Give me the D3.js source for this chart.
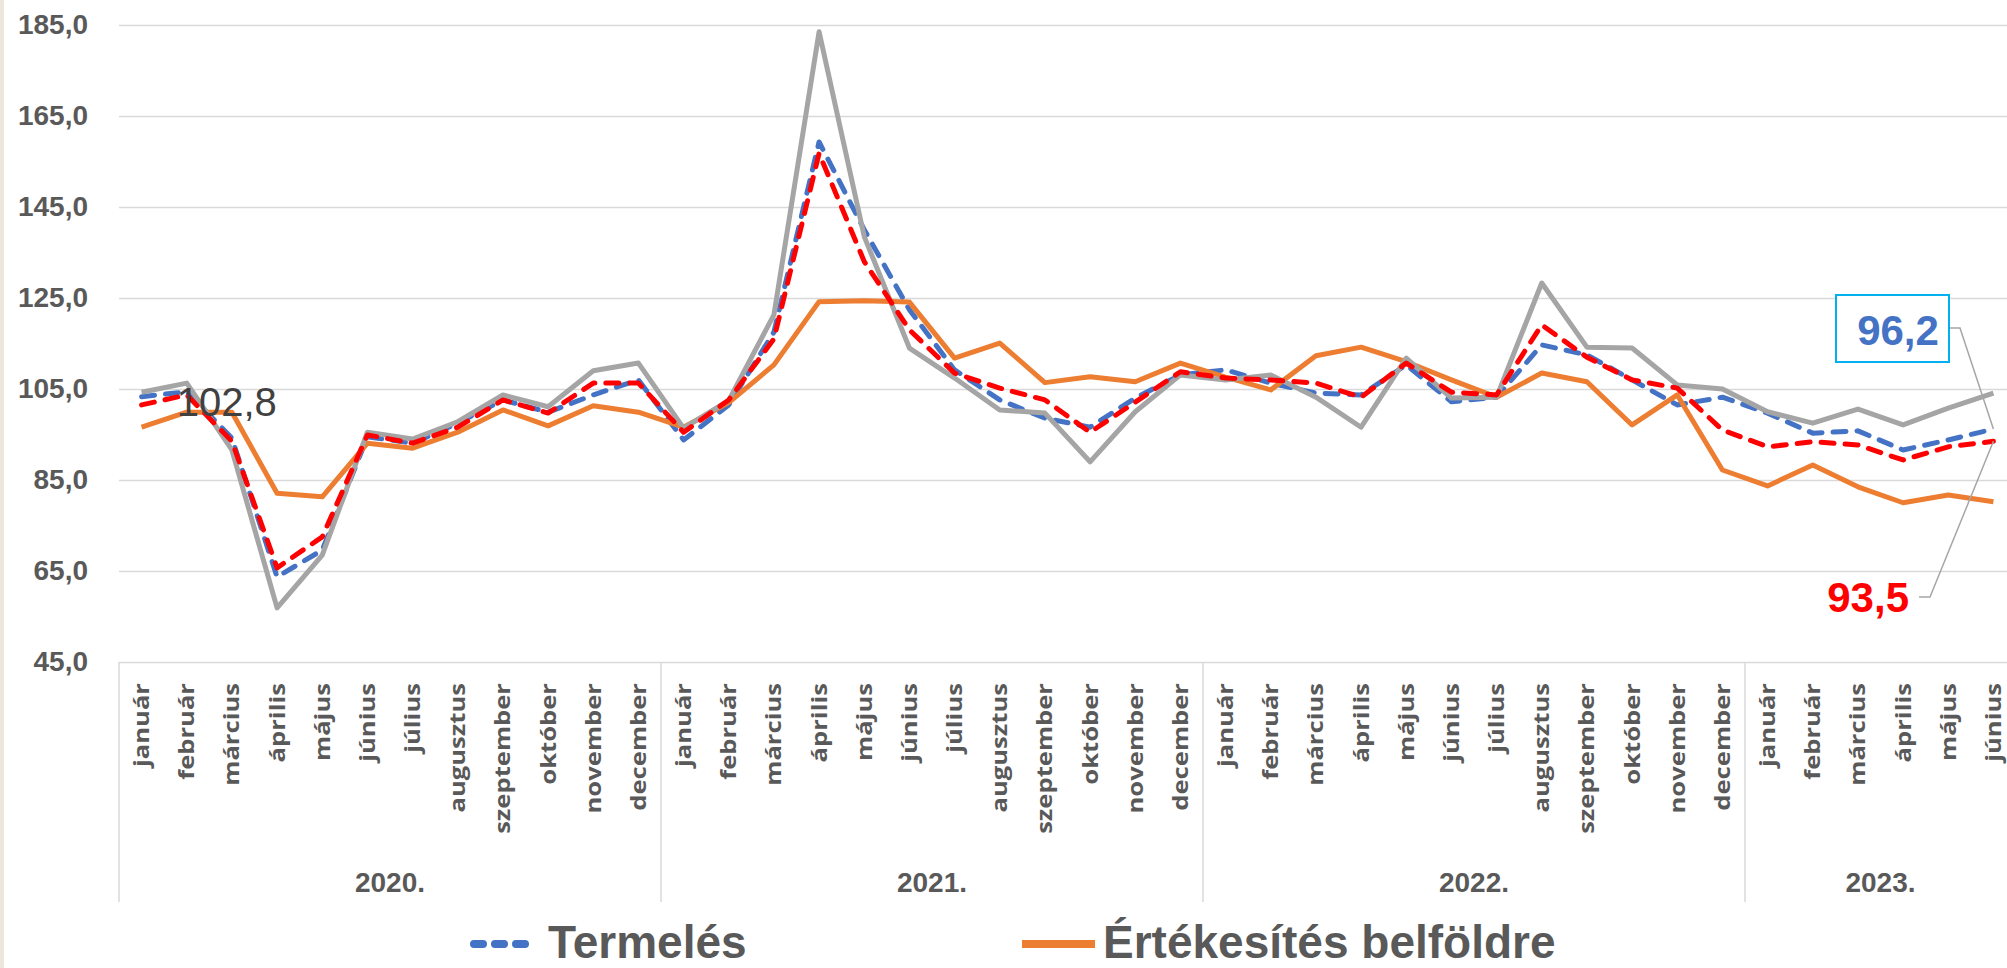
<!DOCTYPE html>
<html>
<head>
<meta charset="utf-8">
<script src="https://cdn.jsdelivr.net/npm/d3@7"></script>
<style>
  body { margin: 0; background: #fff; }
  svg { display: block; }
</style>
</head>
<body>
<svg id="chart" width="2007" height="968"></svg>
<script>
// hónapok, évek
const monthNames = ["január", "február", "március", "április", "május", "június",
  "július", "augusztus", "szeptember", "október", "november", "december"];
const years = ["2020.", "2021.", "2022.", "2023."];
const monthsPerYear = [12, 12, 12, 6];
const yTicks = [45, 65, 85, 105, 125, 145, 165, 185];

// Termelés (kék szaggatott)
const termeles = [103.3, 104.4, 94.2, 63.7, 69.6, 94.5, 93.1, 97.5, 102.6, 99.9, 103.7, 107.0,
  93.8, 101.5, 117.5, 159.3, 140.0, 122.4, 109.2, 102.6, 98.6, 96.6, 103.0, 108.1,
  109.2, 106.3, 104.1, 103.7, 110.3, 102.2, 103.2, 114.7, 112.5, 107.0, 101.5, 103.2,
  99.7, 95.3, 95.8, 91.6, 93.8, 96.2];
// Értékesítés belföldre (narancs)
const ertekesites = [96.6, 99.9, 99.9, 82.1, 81.3, 93.1, 92.0, 95.5, 100.4, 96.9, 101.3, 99.9,
  96.6, 102.0, 110.3, 124.2, 124.4, 124.1, 111.8, 115.1, 106.4, 107.7, 106.6, 110.7,
  107.6, 104.8, 112.3, 114.2, 111.0, 107.0, 103.2, 108.5, 106.6, 97.1, 103.7, 87.2,
  83.7, 88.3, 83.5, 80.0, 81.7, 80.2];
// szürke sorozat
const szurke = [104.3, 106.3, 91.6, 56.9, 68.5, 95.5, 94.0, 97.8, 103.7, 101.1, 109.0, 110.7,
  96.4, 102.5, 121.3, 183.5, 138.5, 114.0, 107.4, 100.4, 99.7, 89.0, 100.0, 108.1,
  107.0, 108.1, 103.2, 96.6, 111.8, 103.0, 103.2, 128.3, 114.2, 114.0, 105.9, 105.0,
  100.0, 97.5, 100.6, 97.1, 100.8, 104.1];
// piros szaggatott sorozat
const piros = [101.5, 103.7, 93.5, 65.7, 72.5, 94.9, 93.1, 96.6, 102.6, 99.7, 106.3, 106.3,
  95.5, 102.6, 116.0, 156.8, 133.0, 118.0, 108.5, 105.2, 102.6, 95.5, 102.1, 108.8,
  107.4, 107.0, 106.3, 103.2, 110.7, 104.3, 103.7, 119.1, 112.0, 107.0, 105.2, 96.0,
  92.3, 93.4, 92.7, 89.4, 92.3, 93.5];

const extraLabel = "102,8";

// kategóriák összerakása
const cats = [];
years.forEach((y, yi) => {
  for (let m = 0; m < monthsPerYear[yi]; ++m) cats.push({year: yi, month: monthNames[m]});
});

const svg = d3.select("#chart");
const width = 2007, height = 968;
const plotLeft = 119, plotRight = 2016, plotTop = 25, plotBottom = 662, axisBottom = 902;

const x = d3.scaleBand(d3.range(cats.length), [plotLeft, plotRight]).padding(0);
const xc = i => x(i) + x.bandwidth() / 2;
const y = d3.scaleLinear([45, 185], [plotBottom, plotTop]);

const huLocale = d3.formatLocale({decimal: ",", thousands: " ", grouping: [3], currency: ["", " Ft"]});
const fmt = huLocale.format(".1f");

const grey = "#595959";
const labelFont = "'Liberation Sans', Arial, sans-serif";

// bal oldali bézs csík
svg.append("rect").attr("x", 0).attr("y", 0).attr("width", 4).attr("height", height).attr("fill", "#ece6dc");

// rácsvonalak + y tengely
const yAxis = svg.append("g")
    .attr("transform", `translate(${plotLeft},0)`)
    .call(d3.axisLeft(y).tickValues(yTicks).tickFormat(fmt).tickSize(-(plotRight - plotLeft)).tickPadding(31));
yAxis.select(".domain").remove();
yAxis.selectAll(".tick line").attr("stroke", "#d9d9d9").attr("stroke-width", 1.5);
yAxis.selectAll(".tick text")
    .attr("fill", grey)
    .attr("font-family", labelFont)
    .attr("font-weight", "bold")
    .attr("font-size", 28);

// kategória tengely: elválasztók
let start = 0;
const sepIdx = [0];
monthsPerYear.forEach(n => { start += n; sepIdx.push(start); });
svg.append("g")
  .selectAll("line")
  .data(sepIdx.slice(0, -1))
  .join("line")
    .attr("x1", d => x(d)).attr("x2", d => x(d))
    .attr("y1", plotBottom).attr("y2", axisBottom)
    .attr("stroke", "#d9d9d9").attr("stroke-width", 1.5);

// hónap feliratok (kicsit megnyújtva, mint az eredetin)
svg.append("g")
  .selectAll("text")
  .data(cats)
  .join("text")
    .attr("transform", (d, i) => `translate(${xc(i)},683) rotate(-90) scale(1.22,1)`)
    .attr("text-anchor", "end")
    .attr("dy", "0.36em")
    .attr("fill", grey)
    .attr("font-family", "'Open Sans', 'DejaVu Sans', sans-serif")
    .attr("font-weight", "bold")
    .attr("font-size", 21)
    .text(d => d.month);

// év feliratok
svg.append("g")
  .selectAll("text")
  .data(years)
  .join("text")
    .attr("x", (d, i) => (x(sepIdx[i]) + (sepIdx[i + 1] < cats.length ? x(sepIdx[i + 1]) : plotRight)) / 2)
    .attr("y", 892)
    .attr("text-anchor", "middle")
    .attr("fill", grey)
    .attr("font-family", labelFont)
    .attr("font-weight", "bold")
    .attr("font-size", 28)
    .text(d => d);

// vonalak
const line = d3.line().x((d, i) => xc(i)).y(d => y(d));
const series = [
  {values: termeles, color: "#4472c4", dash: "13,11"},
  {values: ertekesites, color: "#ed7d31", dash: null},
  {values: szurke, color: "#a5a5a5", dash: null},
  {values: piros, color: "#ff0000", dash: "13,11"}
];
svg.append("g")
    .attr("fill", "none")
    .attr("stroke-width", 5)
    .attr("stroke-linejoin", "round")
  .selectAll("path")
  .data(series)
  .join("path")
    .attr("stroke", d => d.color)
    .attr("stroke-dasharray", d => d.dash)
    .attr("stroke-linecap", d => d.dash ? "round" : "butt")
    .attr("d", d => line(d.values));

// 102,8 felirat
svg.append("text")
    .attr("x", xc(1) - 10)
    .attr("y", 416)
    .attr("fill", "#404040")
    .attr("font-family", labelFont)
    .attr("font-size", 40)
    .text(extraLabel);

// adatfeliratok a végén
const last = cats.length - 1;
const lx = xc(last);
const leader = svg.append("g").attr("fill", "none").attr("stroke", "#a6a6a6").attr("stroke-width", 1.5);
leader.append("path").attr("d", `M1949,328H1960L${lx},${y(termeles[last])}`);
leader.append("path").attr("d", `M1919,597H1930L${lx},${y(piros[last])}`);

svg.append("rect")
    .attr("x", 1836).attr("y", 295).attr("width", 113).attr("height", 67)
    .attr("fill", "#fff").attr("stroke", "#00b0f0").attr("stroke-width", 2);
svg.append("text")
    .attr("x", 1898).attr("y", 345)
    .attr("text-anchor", "middle")
    .attr("fill", "#4472c4")
    .attr("font-family", labelFont)
    .attr("font-weight", "bold")
    .attr("font-size", 42)
    .text(fmt(termeles[last]));
svg.append("text")
    .attr("x", 1909).attr("y", 612)
    .attr("text-anchor", "end")
    .attr("fill", "#ff0000")
    .attr("font-family", labelFont)
    .attr("font-weight", "bold")
    .attr("font-size", 42)
    .text(fmt(piros[last]));

// jelmagyarázat
const legendItems = [
  {name: "Termelés", color: "#4472c4", dash: "13,11", x0: 474, x1: 531, tx: 548},
  {name: "Értékesítés belföldre", color: "#ed7d31", dash: null, x0: 1022, x1: 1095, tx: 1103}
];
const lg = svg.append("g");
lg.selectAll("line")
  .data(legendItems)
  .join("line")
    .attr("x1", d => d.x0).attr("x2", d => d.x1)
    .attr("y1", 944).attr("y2", 944)
    .attr("stroke", d => d.color)
    .attr("stroke-width", 8)
    .attr("stroke-dasharray", d => d.dash ? "9,12" : null)
    .attr("stroke-linecap", d => d.dash ? "round" : "butt");
lg.selectAll("text")
  .data(legendItems)
  .join("text")
    .attr("x", d => d.tx)
    .attr("y", 958)
    .attr("fill", grey)
    .attr("font-family", labelFont)
    .attr("font-weight", "bold")
    .attr("font-size", 46)
    .text(d => d.name);
</script>
</body>
</html>
